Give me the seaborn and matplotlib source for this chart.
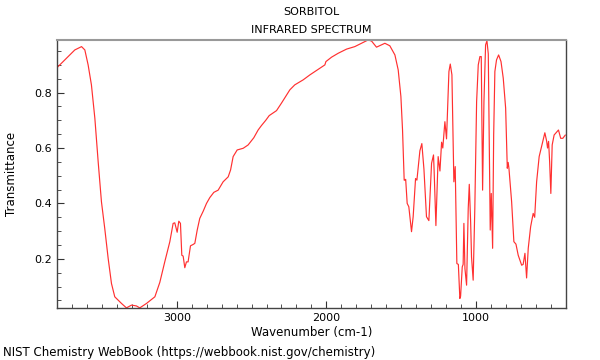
import matplotlib
matplotlib.use('Agg')
import matplotlib.pyplot as plt
from matplotlib.ticker import MultipleLocator
import pandas as pd
import seaborn as sns

# Spectrum (wavenumber in cm-1, transmittance)
wavenumber = [
    3800, 3770, 3726, 3681, 3636, 3614, 3592, 3570, 3547, 3525, 3503, 3481,
    3458, 3436, 3414, 3369, 3336, 3302, 3269, 3247, 3202, 3146, 3113, 3080,
    3046, 3024, 3013, 2997, 2986, 2975, 2966, 2957, 2946, 2935, 2924, 2908,
    2890, 2879, 2863, 2846, 2823, 2801, 2779, 2752, 2723, 2690, 2656, 2640,
    2623, 2596, 2556, 2523, 2485, 2456, 2434, 2405, 2382, 2333, 2300, 2244,
    2211, 2155, 2110, 2066, 2010, 2003, 1965, 1921, 1865, 1810, 1765, 1721,
    1698, 1665, 1609, 1576, 1542, 1520, 1502, 1491, 1480, 1475, 1470, 1460,
    1449, 1431, 1420, 1404, 1395, 1375, 1362, 1348, 1331, 1315, 1297, 1284,
    1280, 1268, 1253, 1241, 1230, 1222, 1208, 1197, 1181, 1172, 1161, 1148,
    1139, 1128, 1118, 1108, 1103, 1092, 1086, 1081, 1074, 1063, 1052, 1045,
    1036, 1030, 1019, 1008, 996, 985, 974, 965, 956, 947, 936, 927,
    918, 912, 905, 898, 889, 882, 874, 863, 849, 833, 818, 802,
    791, 785, 780, 762, 747, 733, 718, 695, 685, 673, 662, 651,
    635, 618, 608, 595, 578, 562, 551, 540, 528, 522, 515, 508,
    500, 491, 478, 462, 449, 434, 420, 403,
]
transmittance = [
    0.890, 0.906, 0.930, 0.954, 0.966, 0.954, 0.900, 0.828, 0.707, 0.551, 0.406, 0.310,
    0.201, 0.111, 0.063, 0.039, 0.023, 0.033, 0.030, 0.023, 0.039, 0.063, 0.115, 0.189,
    0.262, 0.328, 0.330, 0.296, 0.336, 0.328, 0.213, 0.210, 0.168, 0.189, 0.189, 0.247,
    0.252, 0.256, 0.304, 0.346, 0.372, 0.400, 0.421, 0.440, 0.448, 0.478, 0.496, 0.521,
    0.569, 0.593, 0.599, 0.611, 0.637, 0.665, 0.681, 0.700, 0.717, 0.735, 0.762, 0.810,
    0.828, 0.846, 0.864, 0.880, 0.900, 0.912, 0.928, 0.942, 0.957, 0.966, 0.978, 0.990,
    0.986, 0.964, 0.978, 0.969, 0.936, 0.882, 0.786, 0.665, 0.484, 0.484, 0.487, 0.400,
    0.388, 0.298, 0.352, 0.490, 0.484, 0.590, 0.616, 0.524, 0.352, 0.338, 0.545, 0.575,
    0.520, 0.320, 0.569, 0.517, 0.621, 0.600, 0.695, 0.633, 0.876, 0.903, 0.864, 0.478,
    0.533, 0.183, 0.180, 0.057, 0.065, 0.171, 0.180, 0.328, 0.165, 0.105, 0.382, 0.469,
    0.334, 0.207, 0.123, 0.382, 0.767, 0.900, 0.930, 0.930, 0.448, 0.767, 0.972, 0.987,
    0.940, 0.647, 0.304, 0.436, 0.238, 0.647, 0.876, 0.918, 0.936, 0.912, 0.852, 0.744,
    0.527, 0.548, 0.527, 0.406, 0.262, 0.253, 0.213, 0.177, 0.180, 0.220, 0.131, 0.238,
    0.316, 0.364, 0.350, 0.478, 0.569, 0.605, 0.629, 0.655, 0.625, 0.600, 0.624, 0.550,
    0.436, 0.611, 0.647, 0.657, 0.665, 0.635, 0.635, 0.647,
]

df = pd.DataFrame({'wavenumber': wavenumber, 'transmittance': transmittance})

sns.set_style('white')
plt.rcParams['font.family'] = ['DejaVu Sans']
plt.rcParams['text.color'] = 'black'
plt.rcParams['axes.labelcolor'] = 'black'

fig = plt.figure(figsize=(6, 3.6), dpi=100)
ax = fig.add_axes([0.095, 0.144, 0.848, 0.745])

sns.lineplot(data=df, x='wavenumber', y='transmittance', ax=ax,
             sort=False, estimator=None, color='#ff3030', linewidth=0.85)

ax.set_xlim(3800, 400)
ax.set_ylim(0.022, 0.99)

ax.xaxis.set_major_locator(MultipleLocator(1000))
ax.xaxis.set_minor_locator(MultipleLocator(100))
ax.yaxis.set_major_locator(MultipleLocator(0.2))
ax.yaxis.set_minor_locator(MultipleLocator(0.05))
ax.tick_params(which='both', direction='in', bottom=True, left=True,
               top=False, right=False, colors='#333333', labelcolor='black',
               labelsize=8)
ax.tick_params(which='major', length=5, width=0.8)
ax.tick_params(which='minor', length=3, width=0.6)

for side in ['left', 'bottom', 'right']:
    ax.spines[side].set_color('#444444')
    ax.spines[side].set_linewidth(1.0)
ax.spines['top'].set_color('#999999')
ax.spines['top'].set_linewidth(1.5)

ax.set_xlabel('Wavenumber (cm-1)', fontsize=8.5, labelpad=2)
ax.set_ylabel('Transmittance', fontsize=8.5, labelpad=12)

fig.text(0.519, 0.967, 'SORBITOL', ha='center', va='center', fontsize=8)
fig.text(0.519, 0.917, 'INFRARED SPECTRUM', ha='center', va='center', fontsize=8)
fig.text(0.005, 0.022, 'NIST Chemistry WebBook (https://webbook.nist.gov/chemistry)',
         ha='left', va='center', fontsize=8.5)

fig.savefig('out.png', dpi=100)
